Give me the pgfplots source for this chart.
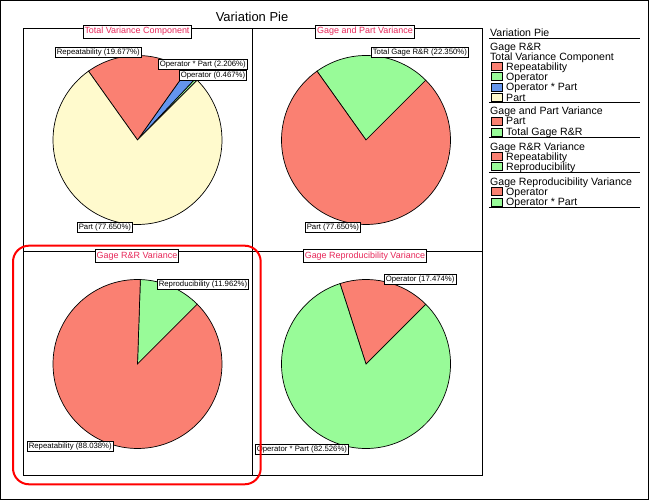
\documentclass[border=0pt]{standalone}
\usepackage{pgfplots}
\pgfplotsset{compat=1.18}
\usepackage{pgfplotstable}
\usepackage{fontspec}
\setmainfont{Liberation Sans}

\definecolor{cSalmon}{RGB}{250,128,114}
\definecolor{cGreen}{RGB}{152,251,152}
\definecolor{cBlue}{RGB}{100,149,237}
\definecolor{cCream}{RGB}{255,250,205}
\definecolor{cTitle}{RGB}{232,40,90}

% slices in drawing order (counter-clockwise from 45 degrees)
\pgfplotstableread[col sep=comma]{
value,color
0.467,cGreen
2.206,cBlue
19.677,cSalmon
77.650,cCream
}\tvc
\pgfplotstableread[col sep=comma]{
value,color
22.350,cGreen
77.650,cSalmon
}\gpv
\pgfplotstableread[col sep=comma]{
value,color
11.962,cGreen
88.038,cSalmon
}\grr
\pgfplotstableread[col sep=comma]{
value,color
17.474,cSalmon
82.526,cGreen
}\grv

\def\R{84.5}
\newcommand{\drawpie}[1]{%
  \pgfplotstablegetrowsof{#1}%
  \pgfmathtruncatemacro{\lastrow}{\pgfplotsretval-1}%
  \pgfmathsetmacro{\cum}{45}%
  \pgfplotsforeachungrouped \rr in {0,...,\lastrow}{%
    \pgfplotstablegetelem{\rr}{value}\of{#1}%
    \pgfmathsetmacro{\aend}{\cum+3.6*\pgfplotsretval}%
    \pgfmathsetmacro{\sx}{\R*cos(\cum)}%
    \pgfmathsetmacro{\sy}{\R*sin(\cum)}%
    \pgfplotstablegetelem{\rr}{color}\of{#1}%
    \edef\temp{\noexpand\filldraw[fill=\pgfplotsretval, draw=black, line width=0.7bp]
      (axis cs:0,0) -- (axis cs:\sx,\sy)
      arc[start angle=\cum, end angle=\aend, radius=\R bp] -- cycle;}%
    \temp
    \let\cum=\aend
  }%
}

\pgfplotsset{pieaxis/.style={anchor=center, scale only axis, width=169bp, height=169bp,
  xmin=-84.5, xmax=84.5, ymin=-84.5, ymax=84.5, hide axis, clip=false}}

\tikzset{
  plab/.style={draw=black, fill=white, line width=0.6bp, inner xsep=1.5bp, inner ysep=1.2bp,
    font=\fontsize{7.8}{9}\selectfont, anchor=west, text height=5.8bp, text depth=1.6bp},
  ptitle/.style={draw=black, fill=white, line width=0.6bp, inner xsep=1.5bp, inner ysep=2bp,
    font=\fontsize{9}{10}\selectfont, text=cTitle, anchor=center, text height=6.8bp, text depth=2bp},
  lg/.style={anchor=west, inner sep=0pt, text height=7.6bp, text depth=0pt,
    font=\fontsize{10.6}{12}\selectfont}
}
\newcommand{\lhead}[2]{\node[lg] at (490,#1) {#2};}
\newcommand{\lentry}[3]{\filldraw[fill=#2,draw=black,line width=0.5bp] (491,#1-4) rectangle (502,#1+4);
  \node[lg] at (506,#1) {#3};}
\newcommand{\lsep}[1]{\draw[line width=0.9bp] (489,#1) -- (640,#1);}

\begin{document}
\begin{tikzpicture}[x=1bp,y=1bp]
\useasboundingbox (0,0) rectangle (649,500);
\draw[line width=1bp] (0.5,0.5) rectangle (648.5,499.5);

\node[font=\fontsize{13}{15}\selectfont] at (252,483) {Variation Pie};

% panels
\draw[line width=1bp] (23,24) rectangle (482,471);
\draw[line width=1bp] (252,24) -- (252,471);
\draw[line width=1bp] (23,248) -- (482,248);

% pies
\begin{axis}[pieaxis, at={(137.5bp,360bp)}]
\addplot[draw=none, forget plot] coordinates {(-84.5,-84.5) (84.5,84.5)};
\drawpie{\tvc}
\end{axis}
\begin{axis}[pieaxis, at={(366bp,360bp)}]
\addplot[draw=none, forget plot] coordinates {(-84.5,-84.5) (84.5,84.5)};
\drawpie{\gpv}
\end{axis}
\begin{axis}[pieaxis, at={(137.5bp,136bp)}]
\addplot[draw=none, forget plot] coordinates {(-84.5,-84.5) (84.5,84.5)};
\drawpie{\grr}
\end{axis}
\begin{axis}[pieaxis, at={(366bp,136bp)}]
\addplot[draw=none, forget plot] coordinates {(-84.5,-84.5) (84.5,84.5)};
\drawpie{\grv}
\end{axis}

% panel titles
\node[ptitle] at (137,468.5) {Total Variance Component};
\node[ptitle] at (365,468.5) {Gage and Part Variance};
\node[ptitle] at (137,244) {Gage R\&R Variance};
\node[ptitle] at (365,244) {Gage Reproducibility Variance};

% slice labels
\node[plab] at (55,448) {Repeatability (19.677\%)};
\node[plab] at (158,435.5) {Operator * Part (2.206\%)};
\node[plab] at (179,424.5) {Operator (0.467\%)};
\node[plab] at (77,272.5) {Part (77.650\%)};
\node[plab] at (371,448) {Total Gage R\&R (22.350\%)};
\node[plab] at (305,272.5) {Part (77.650\%)};
\node[plab] at (157,216) {Reproducibility (11.962\%)};
\node[plab] at (27,53.5) {Repeatability (88.038\%)};
\node[plab] at (384,221) {Operator (17.474\%)};
\node[plab] at (255,51) {Operator * Part (82.526\%)};

% legend
\lhead{467.7}{Variation Pie}
\lsep{461.7}
\lhead{453.3}{Gage R\&R}
\lhead{443.3}{Total Variance Component}
\lentry{433.3}{cSalmon}{Repeatability}
\lentry{423.3}{cGreen}{Operator}
\lentry{412.8}{cBlue}{Operator * Part}
\lentry{402.7}{cCream}{Part}
\lsep{397.3}
\lhead{389}{Gage and Part Variance}
\lentry{379}{cSalmon}{Part}
\lentry{368}{cGreen}{Total Gage R\&R}
\lsep{362.7}
\lhead{353.3}{Gage R\&R Variance}
\lentry{343.3}{cSalmon}{Repeatability}
\lentry{333.3}{cGreen}{Reproducibility}
\lsep{327.3}
\lhead{318.3}{Gage Reproducibility Variance}
\lentry{308.3}{cSalmon}{Operator}
\lentry{298}{cGreen}{Operator * Part}
\lsep{292.3}

% highlight
\draw[red, line width=2bp, rounded corners=16bp] (13,15.7) rectangle (260.7,254.3);
\end{tikzpicture}
\end{document}
